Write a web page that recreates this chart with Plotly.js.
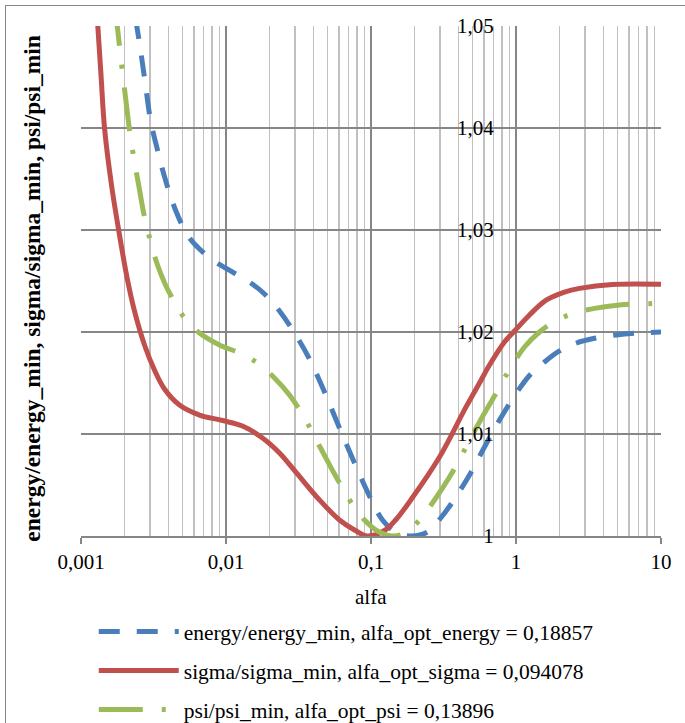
<!DOCTYPE html>
<html>
<head>
<meta charset="utf-8">
<script src="https://cdn.plot.ly/plotly-3.0.1.min.js"></script>
<style>
  html, body { margin: 0; padding: 0; background: #fff; overflow: hidden; }
  #wrap { position: relative; width: 685px; height: 723px; overflow: hidden; }
  #chart { position: absolute; left: 0; top: 0; width: 685px; height: 770px; }
  #frame { position: absolute; left: 5px; top: 5px; width: 720px; height: 760px;
           border: 1.5px solid #868686; pointer-events: none; box-sizing: border-box; }
</style>
</head>
<body>
<div id="wrap"><div id="chart"></div><div id="frame"></div></div>
<script>
// ---- data ----
const energyAlfa = [0.002376, 0.002573, 0.002785, 0.003015, 0.003370, 0.003826, 0.004484, 0.005426, 0.006566, 0.008467,
  0.01109, 0.01452, 0.01843, 0.02339, 0.02968, 0.03766, 0.04779, 0.06064, 0.07694, 0.09765, 0.1200, 0.1476,
  0.18857, 0.2453, 0.3063, 0.3766, 0.4779, 0.6064, 0.7694, 1.0032, 1.239, 1.572, 1.995, 2.614, 3.478, 4.934, 6.566, 10];
const energyVal = [1.05078, 1.04765, 1.04422, 1.04078, 1.03784, 1.03490, 1.03196, 1.02951, 1.02814, 1.02686,
  1.02588, 1.02490, 1.02373, 1.02206, 1.01990, 1.01735, 1.01412, 1.01059, 1.00716, 1.00392, 1.00157, 1.00039,
  1.00000, 1.00039, 1.00186, 1.00363, 1.00598, 1.00873, 1.01137, 1.01399, 1.01574, 1.01706, 1.01814, 1.01892,
  1.01938, 1.01971, 1.01987, 1.02000];

const sigmaAlfa = [0.001279, 0.001306, 0.001374, 0.001453, 0.001623, 0.001843, 0.002093, 0.002376, 0.002741, 0.003212,
  0.003765, 0.004779, 0.006566, 0.009460, 0.01299, 0.01785, 0.02339, 0.03063, 0.04414, 0.06064, 0.07694, 0.094078,
  0.1239, 0.1499, 0.1933, 0.2968, 0.4534, 0.5601, 0.6566, 0.8330, 0.9921, 1.239, 1.623, 2.160, 2.741, 4.629, 10];
const sigmaVal = [1.05216, 1.05000, 1.04520, 1.04000, 1.03441, 1.02951, 1.02510, 1.02167, 1.01873, 1.01627,
  1.01441, 1.01284, 1.01186, 1.01132, 1.01078, 1.00961, 1.00814, 1.00618, 1.00353, 1.00157, 1.00059, 1.00000,
  1.00054, 1.00167, 1.00377, 1.00775, 1.01268, 1.01500, 1.01676, 1.01902, 1.02020, 1.02167, 1.02314, 1.02392,
  1.02428, 1.02466, 1.02468];

const psiAlfa = [0.001702, 0.001785, 0.001903, 0.002027, 0.002161, 0.002302, 0.002492, 0.002741, 0.003015, 0.003370,
  0.003826, 0.004414, 0.005174, 0.006566, 0.009019, 0.01239, 0.01649, 0.02160, 0.02741, 0.03479, 0.04414, 0.05601,
  0.07106, 0.09019, 0.1109, 0.13896, 0.1702, 0.2161, 0.2741, 0.3479, 0.4414, 0.5601, 0.7106, 0.9019, 1.1445,
  1.4526, 1.843, 2.492, 3.478, 5.174, 10];
const psiVal = [1.05235, 1.04980, 1.04627, 1.04304, 1.03980, 1.03725, 1.03451, 1.03127, 1.02892, 1.02657,
  1.02461, 1.02294, 1.02137, 1.01990, 1.01873, 1.01794, 1.01696, 1.01549, 1.01382, 1.01157, 1.00882, 1.00608,
  1.00353, 1.00157, 1.00049, 1.00000, 1.00025, 1.00157, 1.00353, 1.00578, 1.00843, 1.01118, 1.01373, 1.01632,
  1.01853, 1.02000, 1.02103, 1.02183, 1.02232, 1.02265, 1.02281];

const seriesNames = [
  "energy/energy_min, alfa_opt_energy = 0,18857",
  "sigma/sigma_min, alfa_opt_sigma = 0,094078",
  "psi/psi_min, alfa_opt_psi = 0,13896"
];
const xTickVals = [0.001, 0.01, 0.1, 1, 10];
const xTickText = ["0,001", "0,01", "0,1", "1", "10"];
const yTickVals = [1, 1.01, 1.02, 1.03, 1.04, 1.05];
const yTickText = ["1", "1,01", "1,02", "1,03", "1,04", "1,05"];
const xTitle = "alfa";
const yTitle = "energy/energy_min, sigma/sigma_min, psi/psi_min";

// minor gridline positions (2..9 within each decade)
const minorVals = [];
for (let d = -3; d < 1; d++) {
  for (let k = 2; k <= 9; k++) minorVals.push(k * Math.pow(10, d));
}

const FONT = "Liberation Serif, Times New Roman, serif";
const LW = 5;
const H = 770;   // paper is taller than the 723px window; the extra is cropped

const traces = [
  { x: energyAlfa, y: energyVal, name: seriesNames[0], mode: "lines", legendgroup: "a",
    line: { color: "#4A7EBB", width: LW, dash: "21px,17px", shape: "spline", smoothing: 1 } },
  { x: sigmaAlfa, y: sigmaVal, name: seriesNames[1], mode: "lines", legendgroup: "b",
    line: { color: "#C0504D", width: LW, shape: "spline", smoothing: 1 } },
  { x: psiAlfa, y: psiVal, name: seriesNames[2], mode: "lines", legendgroup: "c",
    line: { color: "#9BBB59", width: LW, dash: "44px,19px,4px,19px", shape: "spline", smoothing: 1 } }
];

const layout = {
  width: 685, height: H,
  paper_bgcolor: "#ffffff", plot_bgcolor: "#ffffff",
  margin: { l: 81, r: 24, t: 0, b: 0 },
  font: { family: FONT, size: 21, color: "#000" },
  showlegend: true,
  legend: {
    orientation: "v", x: 0.022, xanchor: "left", y: (H - 611) / H, yanchor: "top",
    font: { family: FONT, size: 21.5, color: "#000" },
    itemwidth: 80, tracegroupgap: 8, bgcolor: "rgba(0,0,0,0)"
  },
  xaxis: {
    type: "log", range: [-3, 1],
    tickmode: "array", tickvals: xTickVals, ticktext: xTickText,
    showgrid: true, gridcolor: "#868686", gridwidth: 1.5,
    minor: { tickmode: "array", tickvals: minorVals, showgrid: true, gridcolor: "#C0C0C0", gridwidth: 1.5, ticks: "" },
    showline: true, linecolor: "#868686", linewidth: 1.5,
    ticks: "outside", ticklen: 6, tickcolor: "#868686", tickwidth: 1.5,
    tickfont: { family: FONT, size: 21, color: "#000" },
    zeroline: false, automargin: false
  },
  yaxis: {
    range: [1, 1.05], anchor: "free", position: 0.75,
    domain: [(H - 536) / H, (H - 26) / H],
    tickmode: "array", tickvals: yTickVals, ticktext: yTickText,
    showgrid: true, gridcolor: "#868686", gridwidth: 1.5,
    showline: false, zeroline: false,
    ticks: "outside", ticklen: 18, tickcolor: "rgba(0,0,0,0)",
    tickfont: { family: FONT, size: 21, color: "#000" },
    automargin: false
  },
  annotations: [
    { text: "<b>" + yTitle + "</b>", textangle: -90,
      xref: "paper", yref: "paper", x: -0.085, y: (H - 288) / H, xanchor: "center", yanchor: "middle",
      showarrow: false, font: { family: FONT, size: 23.5, color: "#000" } },
    { text: xTitle,
      xref: "paper", yref: "paper", x: 0.5, y: (H - 597) / H, xanchor: "center", yanchor: "middle",
      showarrow: false, font: { family: FONT, size: 21, color: "#000" } }
  ]
};

Plotly.newPlot("chart", traces, layout, { displayModeBar: false, staticPlot: true });
</script>
</body>
</html>
